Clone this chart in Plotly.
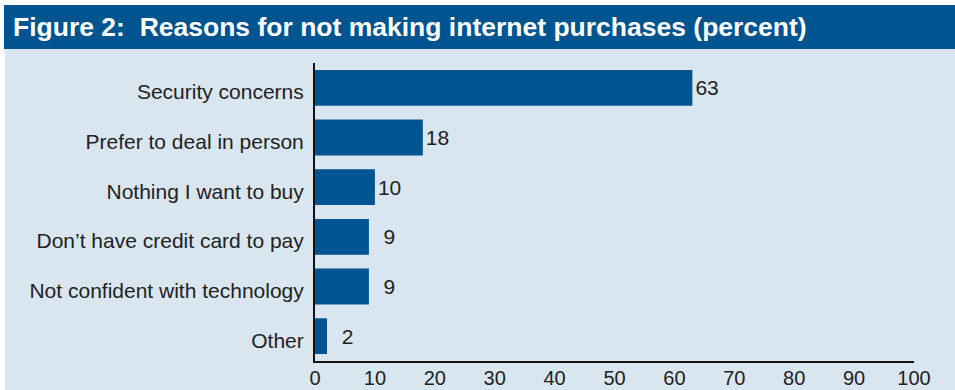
import plotly.graph_objects as go

categories = [
    "Security concerns",
    "Prefer to deal in person",
    "Nothing I want to buy",
    "Don’t have credit card to pay",
    "Not confident with technology",
    "Other",
]
values = [63, 18, 10, 9, 9, 2]
x_ticks = [0, 10, 20, 30, 40, 50, 60, 70, 80, 90, 100]

W, H = 955, 390
L, R, T, B = 315, 41, 63, 29
pw, ph = W - L - R, H - T - B


def px(x):
    return (x - L) / pw


def py(y):
    return (H - B - y) / ph


BLUE = "#00548F"
PANEL = "#D9E6F0"
TEXT = "#222222"
FONT = "Liberation Sans, Arial, sans-serif"

# value labels, single digits padded to two-digit width
labels = [("\u2007" if v < 10 else "") + str(v) for v in values]

fig = go.Figure(
    go.Bar(
        x=values,
        y=categories,
        orientation="h",
        marker=dict(color=BLUE, line=dict(width=0)),
        width=0.72,
        text=labels,
        textposition="outside",
        constraintext="none",
        textfont=dict(color=TEXT, size=21, family=FONT),
        cliponaxis=False,
        hoverinfo="skip",
    )
)

fig.update_layout(
    width=W,
    height=H,
    margin=dict(l=L, r=R, t=T, b=B, autoexpand=False),
    paper_bgcolor="white",
    plot_bgcolor="rgba(0,0,0,0)",
    showlegend=False,
    font=dict(family=FONT, size=21, color=TEXT),
    shapes=[
        # light panel behind the chart
        dict(type="rect", xref="paper", yref="paper",
             x0=px(5), x1=px(W), y0=py(H), y1=py(49),
             fillcolor=PANEL, line=dict(width=0), layer="below"),
        # title band
        dict(type="rect", xref="paper", yref="paper",
             x0=px(4), x1=px(W), y0=py(49), y1=py(5),
             fillcolor=BLUE, line=dict(width=0), layer="below"),
    ],
    annotations=[
        dict(text="<b>Figure 2:  Reasons for not making internet purchases (percent)</b>",
             xref="paper", yref="paper", x=px(11), y=py(27),
             xanchor="left", yanchor="middle", showarrow=False,
             font=dict(family=FONT, size=26.5, color="white")),
    ],
)

fig.update_xaxes(
    range=[0, 100],
    tickvals=x_ticks,
    ticktext=[str(t) for t in x_ticks],
    showgrid=False,
    zeroline=False,
    showline=True,
    linecolor="#111111",
    linewidth=2,
    ticks="",
    ticklabelstandoff=-2,
    tickfont=dict(size=20, color=TEXT),
    automargin=False,
)

fig.update_yaxes(
    categoryorder="array",
    categoryarray=categories,
    autorange=False,
    range=[5.5, -0.5],
    showgrid=False,
    zeroline=False,
    showline=True,
    linecolor="#111111",
    linewidth=2,
    ticks="",
    ticklabelstandoff=5,
    ticklabelshift=-4,
    tickfont=dict(size=21, color=TEXT),
    automargin=False,
)

fig.write_html("out.html")
